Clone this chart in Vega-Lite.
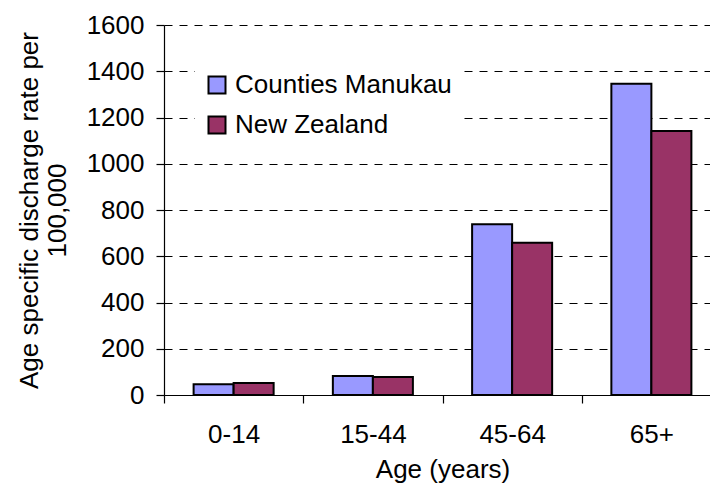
{
  "$schema": "https://vega.github.io/schema/vega-lite/v6.json",
  "width": 546,
  "height": 370,
  "autosize": {"type": "none"},
  "padding": {"left": 164, "top": 25, "right": 0, "bottom": 88},
  "background": "white",
  "config": {
    "font": "Liberation Sans",
    "view": {"stroke": null}
  },
  "data": {
    "values": [
      {"age": "0-14", "region": "Counties Manukau", "rate": 47},
      {"age": "0-14", "region": "New Zealand", "rate": 52},
      {"age": "15-44", "region": "Counties Manukau", "rate": 82},
      {"age": "15-44", "region": "New Zealand", "rate": 78},
      {"age": "45-64", "region": "Counties Manukau", "rate": 738},
      {"age": "45-64", "region": "New Zealand", "rate": 658},
      {"age": "65+", "region": "Counties Manukau", "rate": 1346},
      {"age": "65+", "region": "New Zealand", "rate": 1142}
    ]
  },
  "mark": {"type": "bar", "stroke": "black", "strokeWidth": 2},
  "encoding": {
    "x": {
      "field": "age",
      "type": "nominal",
      "sort": ["0-14", "15-44", "45-64", "65+"],
      "scale": {"range": [0, 557], "paddingInner": 0, "paddingOuter": 0},
      "axis": {
        "title": "Age (years)",
        "labelAngle": 0,
        "tickBand": "extent",
        "labelPadding": 18,
        "titlePadding": 9,
        "grid": false,
        "domain": true,
        "domainColor": "#000000",
        "domainWidth": 1.2,
        "ticks": true,
        "tickColor": "#000000",
        "tickSize": 8,
        "tickWidth": 1.2,
        "labelColor": "black",
        "titleColor": "black",
        "labelFontSize": 26,
        "titleFontSize": 26,
        "titleFontWeight": "normal"
      }
    },
    "xOffset": {
      "field": "region",
      "type": "nominal",
      "scale": {"paddingInner": 0, "paddingOuter": 0.74}
    },
    "y": {
      "field": "rate",
      "type": "quantitative",
      "scale": {"domain": [0, 1600]},
      "axis": {
        "title": ["Age specific discharge rate per", "100,000"],
        "values": [0, 200, 400, 600, 800, 1000, 1200, 1400, 1600],
        "format": "d",
        "grid": true,
        "gridColor": "#000000",
        "gridDash": [8, 7],
        "gridOpacity": 1,
        "gridWidth": 1,
        "domain": true,
        "domainColor": "#000000",
        "domainWidth": 1.2,
        "ticks": true,
        "tickColor": "#000000",
        "tickSize": 8,
        "tickWidth": 1.2,
        "labelColor": "black",
        "titleColor": "black",
        "labelFontSize": 26,
        "titleFontSize": 26,
        "titleFontWeight": "normal",
        "labelPadding": 12,
        "titlePadding": 16,
        "titleLineHeight": 28
      }
    },
    "color": {
      "field": "region",
      "type": "nominal",
      "scale": {"domain": ["Counties Manukau", "New Zealand"], "range": ["#9999FF", "#993366"]},
      "legend": {
        "orient": "none",
        "legendX": 31,
        "legendY": 38,
        "title": null,
        "fillColor": "white",
        "padding": 9,
        "labelFontSize": 26,
        "labelColor": "black",
        "labelLimit": 400,
        "symbolType": "square",
        "symbolSize": 289,
        "symbolStrokeColor": "black",
        "symbolStrokeWidth": 2,
        "symbolOpacity": 1,
        "labelOffset": 5,
        "rowPadding": 14
      }
    }
  }
}
